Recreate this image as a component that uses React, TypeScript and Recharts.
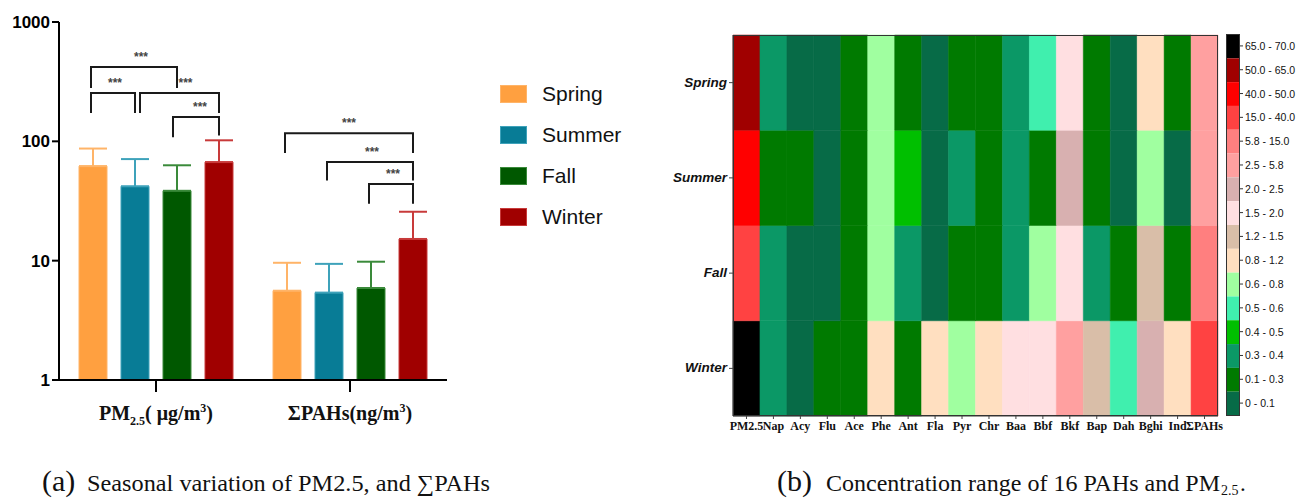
import { BarChart, Bar, XAxis, YAxis, ErrorBar, Cell } from "recharts";

// ---- seasonal means (bars) and upper error ----
const groups = ["PM2.5", "ΣPAHs"];
const seasons = ["Spring", "Summer", "Fall", "Winter"];
const seasonColors = ["#ffa040", "#087c96", "#005800", "#a00000"];
const errorColors = ["#ffb468", "#3ea2ba", "#3a8a3a", "#c83a3a"];

const springMean = [62, 5.6];
const summerMean = [42, 5.4];
const fallMean = [38.5, 5.9];
const winterMean = [67, 15.2];

const springErr = [25, 4.0];
const summerErr = [29, 4.0];
const fallErr = [24.5, 3.9];
const winterErr = [35, 10.5];

// significance brackets: group, season a -> season b, bar level, leg ends (same units as y)
const brackets = [
  { g: 0, a: 0, b: 1, level: 254, legA: 173, legB: 173, shiftA: 0, star: 2 },
  { g: 0, a: 0, b: 2, level: 420, legA: 280, legB: 280, shiftA: 0, star: 7 },
  { g: 0, a: 1, b: 3, level: 254, legA: 173, legB: 173, shiftA: 7, star: 6 },
  { g: 0, a: 2, b: 3, level: 160, legA: 108, legB: 112, shiftA: -2, star: 4 },
  { g: 1, a: 0, b: 3, level: 117, legA: 80, legB: 80, shiftA: 0, star: 0 },
  { g: 1, a: 1, b: 3, level: 67, legA: 47, legB: 47, shiftA: 0, star: 2 },
  { g: 1, a: 2, b: 3, level: 44, legA: 30, legB: 30, shiftA: 0, star: 2 },
];

// ---- heatmap ----
const compounds = ["PM2.5", "Nap", "Acy", "Flu", "Ace", "Phe", "Ant", "Fla", "Pyr", "Chr", "Baa", "Bbf", "Bkf", "Bap", "Dah", "Bghi", "Ind", "ΣPAHs"];
const springPahs = [0.35, 0.05, 0.06, 0.2, 0.7, 0.2, 0.08, 0.2, 0.2, 0.35, 0.55, 1.7, 0.2, 0.07, 1.0, 0.2];
const summerPahs = [0.2, 0.2, 0.05, 0.2, 0.7, 0.45, 0.08, 0.35, 0.2, 0.35, 0.2, 2.2, 0.2, 0.07, 0.7, 0.08];
const fallPahs = [0.35, 0.05, 0.06, 0.2, 0.7, 0.35, 0.08, 0.2, 0.2, 0.35, 0.7, 1.7, 0.35, 0.2, 1.3, 0.2];
const winterPahs = [0.35, 0.08, 0.2, 0.25, 1.0, 0.2, 1.0, 0.7, 1.0, 1.7, 1.8, 3.0, 1.3, 0.55, 2.2, 1.0];

const binEdges = [0, 0.1, 0.3, 0.4, 0.5, 0.6, 0.8, 1.2, 1.5, 2.0, 2.5, 5.8, 15.0, 40.0, 50.0, 65.0, 70.0];
const binLabels = ["0 - 0.1", "0.1 - 0.3", "0.3 - 0.4", "0.4 - 0.5", "0.5 - 0.6", "0.6 - 0.8", "0.8 - 1.2", "1.2 - 1.5", "1.5 - 2.0", "2.0 - 2.5", "2.5 - 5.8", "5.8 - 15.0", "15.0 - 40.0", "40.0 - 50.0", "50.0 - 65.0", "65.0 - 70.0"];
const binColors = ["#076b47", "#007a00", "#0b9866", "#00bf00", "#40efae", "#a0ffa0", "#ffdfc0", "#d9bea8", "#ffdfe1", "#d8b0b0", "#ffa0a0", "#ff7f7f", "#ff4242", "#ff0000", "#a00000", "#000000"];

const binColor = (v: number) => {
  for (let i = 0; i < binColors.length; i++) {
    if (v >= binEdges[i] && v < binEdges[i + 1]) return binColors[i];
  }
  return binColors[binColors.length - 1];
};

const seasonRows: Record<string, number[]> = {
  Spring: [springMean[0], ...springPahs, springMean[1]],
  Summer: [summerMean[0], ...summerPahs, summerMean[1]],
  Fall: [fallMean[0], ...fallPahs, fallMean[1]],
  Winter: [winterMean[0], ...winterPahs, winterMean[1]],
};

const means = [springMean, summerMean, fallMean, winterMean];
const errs = [springErr, summerErr, fallErr, winterErr];

const barData = groups.map((name, i) => {
  const row: any = { name };
  seasons.forEach((s, k) => {
    row[s] = means[k][i];
    row[s + "Err"] = [0, errs[k][i]];
  });
  return row;
});

// every cell has unit height, colour comes from the concentration
const heatData = compounds.map((name) => ({ name, Winter: 1, Fall: 1, Summer: 1, Spring: 1 }));

// left panel geometry
const L_W = 460;
const L_H = 440;
const PLOT_L = 59;
const PLOT_R = 447;
const PLOT_T = 22;
const PLOT_B = 380;
const BAR = 28;
const GAP = 14;

const yPix = (v: number) => PLOT_B - (Math.log10(v) / 3) * (PLOT_B - PLOT_T);
const barX = (g: number, k: number) => {
  const band = (PLOT_R - PLOT_L) / groups.length;
  return PLOT_L + band * (g + 0.5) + (k - 1.5) * (BAR + GAP);
};

const GroupTick = ({ x, y, payload }: any) => {
  const pm = payload.value === "PM2.5";
  return (
    <text x={x} y={y + 26} textAnchor="middle" fontFamily="Liberation Serif" fontWeight="bold" fontSize={20} fill="#111">
      {pm ? (
        <>
          PM<tspan dy={5} fontSize={12}>2.5</tspan>
          <tspan dy={-5}>( μg/m</tspan>
          <tspan dy={-8} fontSize={12}>3</tspan>
          <tspan dy={8}>)</tspan>
        </>
      ) : (
        <>
          ΣPAHs(ng/m<tspan dy={-8} fontSize={12}>3</tspan>
          <tspan dy={8}>)</tspan>
        </>
      )}
    </text>
  );
};

const SeasonLegend = () => (
  <div style={{ position: "absolute", left: 500, top: 73 }}>
    {seasons.map((s, k) => (
      <div key={s} style={{ display: "flex", alignItems: "center", height: 41 }}>
        <div style={{ width: 27, height: 18, background: seasonColors[k], border: "1px solid " + errorColors[k], boxSizing: "border-box" }} />
        <span style={{ marginLeft: 15, fontFamily: "Liberation Sans", fontSize: 21, color: "#111" }}>{s}</span>
      </div>
    ))}
  </div>
);

const Brackets = () => (
  <svg width={L_W} height={L_H} style={{ position: "absolute", left: 0, top: 0, pointerEvents: "none" }}>
    {brackets.map((b, i) => {
      const xa = barX(b.g, b.a) + b.shiftA - 2;
      const xb = barX(b.g, b.b);
      const yl = yPix(b.level);
      return (
        <g key={i}>
          <path d={`M${xa},${yPix(b.legA)} V${yl} H${xb} V${yPix(b.legB)}`} fill="none" stroke="#1a1a1a" strokeWidth={2} />
          <text x={(xa + xb) / 2 + b.star} y={yl - 6} textAnchor="middle" fontFamily="Liberation Sans" fontWeight="bold" fontSize={12} fill="#444">***</text>
        </g>
      );
    })}
  </svg>
);

const SeasonTick = ({ x, y, payload }: any) => {
  const names = ["Winter", "Fall", "Summer", "Spring"];
  const idx = Math.floor(payload.value);
  return (
    <text x={x} y={y + 4} textAnchor="end" fontFamily="Liberation Sans" fontWeight="bold" fontStyle="italic" fontSize={13.5} fill="#111">
      {names[idx]}
    </text>
  );
};

// stepped colour key beside the heatmap, highest bin on top
const ColorKey = () => {
  const h = 381 / binColors.length;
  const order = [...binColors.keys()].reverse();
  return (
    <svg width={72} height={384} style={{ position: "absolute", left: 1226, top: 34 }}>
      {order.map((i, r) => (
        <g key={i}>
          <rect x={0.5} y={0.5 + r * h} width={13} height={h} fill={binColors[i]} />
          <line x1={14} x2={17} y1={r * h + h / 2} y2={r * h + h / 2} stroke="#333" />
          <text x={19} y={r * h + h / 2 + 4} fontFamily="Liberation Sans" fontSize={10.5} fill="#111">{binLabels[i]}</text>
        </g>
      ))}
      <rect x={0.5} y={0.5} width={13} height={381} fill="none" stroke="#333" />
    </svg>
  );
};

export default function App() {
  return (
    <div style={{ position: "fixed", left: 0, top: 0, width: 1297, height: 499, background: "#fff" }}>
      {/* (a) seasonal bars on a log axis */}
      <div style={{ position: "absolute", left: 0, top: 0, width: L_W, height: L_H }}>
        <BarChart width={L_W} height={L_H} data={barData} margin={{ top: PLOT_T, right: L_W - PLOT_R, bottom: 0, left: 0 }} barSize={BAR} barGap={GAP}>
          <XAxis dataKey="name" height={L_H - PLOT_B} tickSize={12} axisLine={{ stroke: "#000", strokeWidth: 2 }} tickLine={{ stroke: "#000", strokeWidth: 2 }} tick={<GroupTick />} />
          <YAxis
            width={PLOT_L}
            scale="log"
            domain={[1, 1000]}
            ticks={[1, 10, 100, 1000]}
            allowDataOverflow
            interval={0}
            tickSize={7}
            axisLine={{ stroke: "#000", strokeWidth: 2 }}
            tickLine={{ stroke: "#000", strokeWidth: 2 }}
            tick={{ fill: "#000", fontSize: 17, fontWeight: "bold", fontFamily: "Liberation Sans" }}
          />
          {seasons.map((s, k) => (
            <Bar key={s} dataKey={s} fill={seasonColors[k]} stroke={errorColors[k]} strokeWidth={1} isAnimationActive={false}>
              <ErrorBar dataKey={s + "Err"} width={14} strokeWidth={2} stroke={errorColors[k]} direction="y" />
            </Bar>
          ))}
        </BarChart>
        <Brackets />
      </div>
      <SeasonLegend />

      {/* (b) concentration heatmap */}
      <div style={{ position: "absolute", left: 640, top: 0, width: 590, height: 446 }}>
        <BarChart width={590} height={446} data={heatData} margin={{ top: 35, right: 12, bottom: 0, left: 0 }} barCategoryGap={0} barGap={0}>
          <XAxis
            dataKey="name"
            height={30}
            interval={0}
            tickSize={3}
            axisLine={{ stroke: "#444" }}
            tickLine={{ stroke: "#444" }}
            tick={{ fill: "#111", fontSize: 12, fontWeight: "bold", fontFamily: "Liberation Serif" }}
          />
          <YAxis
            type="number"
            width={93}
            domain={[0, 4]}
            ticks={[0.5, 1.5, 2.5, 3.5]}
            interval={0}
            tickSize={4}
            axisLine={{ stroke: "#444" }}
            tickLine={{ stroke: "#444" }}
            tick={<SeasonTick />}
          />
          {["Winter", "Fall", "Summer", "Spring"].map((s) => (
            <Bar key={s} dataKey={s} stackId="h" isAnimationActive={false}>
              {seasonRows[s].map((v, j) => (
                <Cell key={j} fill={binColor(v)} stroke={binColor(v)} strokeWidth={0.5} />
              ))}
            </Bar>
          ))}
        </BarChart>
        <div style={{ position: "absolute", left: 93, top: 35, width: 485, height: 381, border: "1px solid #333", boxSizing: "border-box", pointerEvents: "none" }} />
      </div>
      <ColorKey />

      {/* captions */}
      <svg width={1297} height={499} style={{ position: "absolute", left: 0, top: 0, pointerEvents: "none" }}>
        <text x={42} y={491} fontFamily="Liberation Serif" fontSize={30} fill="#111">(a)</text>
        <text x={87} y={491} fontFamily="Liberation Serif" fontSize={23} fill="#111" textLength={403} lengthAdjust="spacingAndGlyphs">
          Seasonal variation of PM2.5, and ∑PAHs
        </text>
        <text x={777} y={491} fontFamily="Liberation Serif" fontSize={30} fill="#111">(b)</text>
        <text x={826} y={491} fontFamily="Liberation Serif" fontSize={23} fill="#111" textLength={394} lengthAdjust="spacingAndGlyphs">
          Concentration range of 16 PAHs and PM
        </text>
        <text x={1221} y={495} fontFamily="Liberation Serif" fontSize={14} fill="#111">2.5</text>
        <text x={1240} y={491} fontFamily="Liberation Serif" fontSize={23} fill="#111">.</text>
      </svg>
    </div>
  );
}
